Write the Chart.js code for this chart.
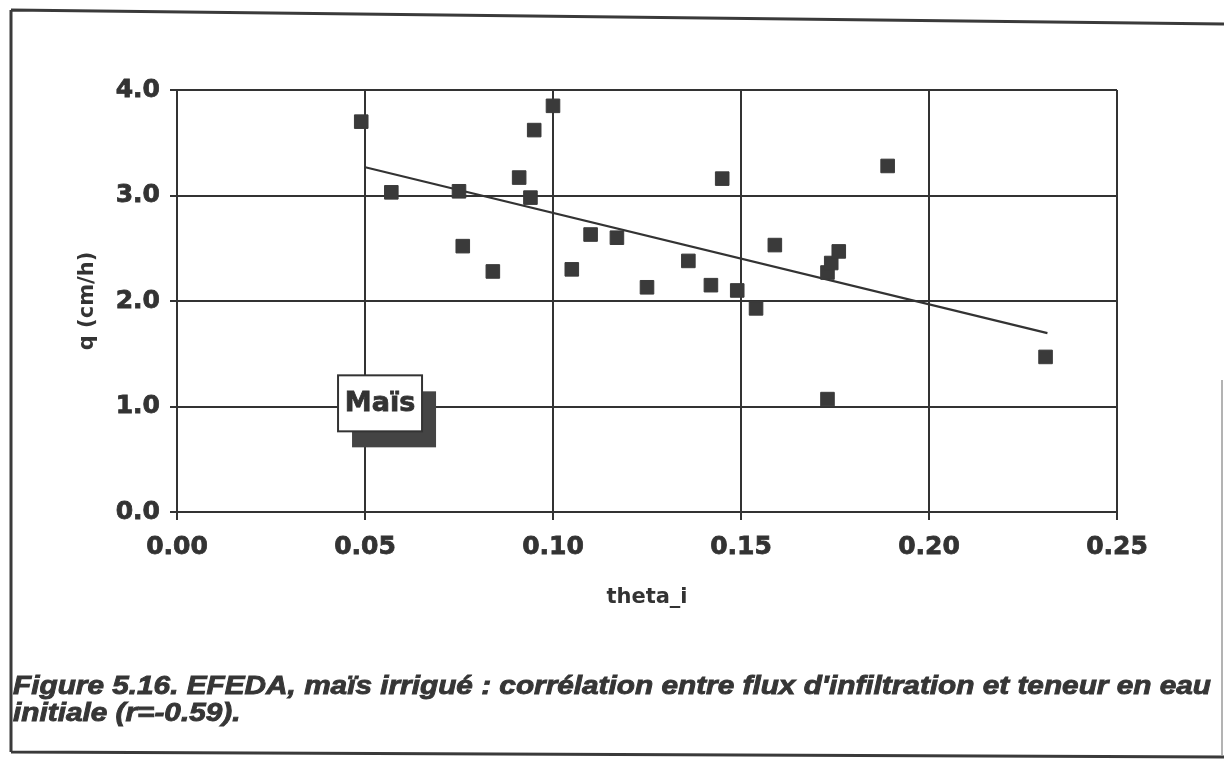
<!DOCTYPE html>
<html>
<head>
<meta charset="utf-8">
<script src="https://cdn.jsdelivr.net/npm/chart.js@4/dist/chart.umd.min.js"></script>
<style>
  html, body { margin: 0; padding: 0; background: #ffffff; }
  #wrap { width: 1224px; height: 764px; position: relative; }
</style>
</head>
<body>
<div id="wrap"><canvas id="c" width="1224" height="764"></canvas></div>
<script>
// ---- data ----
const thetaI = [0.049, 0.057, 0.075, 0.076, 0.084, 0.091, 0.094, 0.095, 0.100, 0.105,
                0.110, 0.117, 0.125, 0.136, 0.142, 0.145, 0.149, 0.154, 0.159, 0.173,
                0.174, 0.176, 0.173, 0.189, 0.231];
const qValues = [3.70, 3.03, 3.04, 2.52, 2.28, 3.17, 2.98, 3.62, 3.85, 2.30,
                 2.63, 2.60, 2.13, 2.38, 2.15, 3.16, 2.10, 1.93, 2.53, 2.27,
                 2.36, 2.47, 1.07, 3.28, 1.47];
const trendX = [0.0498, 0.2315];
const trendY = [3.27, 1.695];
const xTicks = [0.00, 0.05, 0.10, 0.15, 0.20, 0.25];
const yTicks = [0.0, 1.0, 2.0, 3.0, 4.0];
const xTitle = 'theta_i';
const yTitle = 'q (cm/h)';
const boxLabel = 'Maïs';
const boxAt = [0.054, 1.03];
const captionLines = [
  "Figure 5.16. EFEDA, maïs irrigué : corrélation entre flux d'infiltration et teneur en eau",
  "initiale (r=-0.59)."
];

const INK = '#333333';
const points = thetaI.map((x, i) => ({ x: x, y: qValues[i] }));
const trend = trendX.map((x, i) => ({ x: x, y: trendY[i] }));

const decor = {
  id: 'decor',
  beforeDraw(chart) {
    const ctx = chart.ctx;
    ctx.save();
    ctx.fillStyle = '#ffffff';
    ctx.fillRect(0, 0, chart.width, chart.height);
    ctx.restore();
  },
  afterDraw(chart) {
    const ctx = chart.ctx;
    const xs = chart.scales.x, ys = chart.scales.y;
    ctx.save();
    // outer frame of the scanned figure
    ctx.strokeStyle = '#3a3a3a';
    ctx.lineWidth = 3;
    ctx.beginPath();
    ctx.moveTo(11, 10); ctx.lineTo(1224, 24);
    ctx.moveTo(11, 10); ctx.lineTo(11, 752);
    ctx.moveTo(11, 752); ctx.lineTo(1224, 757);
    ctx.stroke();
    ctx.strokeStyle = '#9a9a9a';
    ctx.lineWidth = 1.5;
    ctx.beginPath();
    ctx.moveTo(1222, 380); ctx.lineTo(1222, 756);
    ctx.stroke();

    // "Maïs" label box with shadow
    const cx = xs.getPixelForValue(boxAt[0]);
    const cy = ys.getPixelForValue(boxAt[1]);
    const bw = 84, bh = 56;
    ctx.fillStyle = '#444444';
    ctx.fillRect(cx - bw / 2 + 14, cy - bh / 2 + 16, bw, bh);
    ctx.fillStyle = '#ffffff';
    ctx.fillRect(cx - bw / 2, cy - bh / 2, bw, bh);
    ctx.strokeStyle = INK;
    ctx.lineWidth = 2;
    ctx.strokeRect(cx - bw / 2, cy - bh / 2, bw, bh);
    ctx.fillStyle = INK;
    ctx.font = 'bold 27px "DejaVu Sans"';
    ctx.textAlign = 'center';
    ctx.textBaseline = 'middle';
    ctx.lineWidth = 0.8;
    ctx.fillText(boxLabel, cx, cy + 1);
    ctx.strokeText(boxLabel, cx, cy + 1);

    // caption
    ctx.font = 'italic bold 26px "Liberation Sans"';
    ctx.textAlign = 'left';
    ctx.textBaseline = 'alphabetic';
    const w1 = ctx.measureText(captionLines[0]).width;
    const sx = 1198 / w1;
    ctx.fillStyle = '#363636';
    ctx.strokeStyle = '#363636';
    ctx.lineWidth = 0.9;
    ctx.translate(13, 0);
    ctx.scale(sx, 1);
    ctx.fillText(captionLines[0], 0, 694);
    ctx.strokeText(captionLines[0], 0, 694);
    ctx.fillText(captionLines[1], 0, 721);
    ctx.strokeText(captionLines[1], 0, 721);
    ctx.restore();
  }
};

new Chart(document.getElementById('c'), {
  type: 'scatter',
  data: {
    datasets: [
      {
        label: 'q',
        data: points,
        pointStyle: 'rect',
        pointRadius: 9.6,
        pointHoverRadius: 9.6,
        backgroundColor: '#3a3a3a',
        borderColor: '#3a3a3a',
        borderWidth: 1,
        order: 1
      },
      {
        label: 'trend',
        type: 'line',
        data: trend,
        borderColor: INK,
        borderWidth: 2.2,
        pointRadius: 0,
        fill: false,
        order: 2
      }
    ]
  },
  options: {
    responsive: false,
    animation: false,
    events: [],
    layout: { padding: { left: 0, right: 107, top: 90, bottom: 130 } },
    plugins: {
      legend: { display: false },
      tooltip: { enabled: false }
    },
    scales: {
      x: {
        type: 'linear',
        min: 0, max: 0.25,
        afterBuildTicks: (s) => { s.ticks = xTicks.map(v => ({ value: v })); },
        afterFit: (s) => { s.height = 122; },
        ticks: {
          color: INK,
          padding: 12,
          textStrokeColor: INK,
          textStrokeWidth: 0.8,
          font: { family: '"DejaVu Sans"', weight: 'bold', size: 25 },
          callback: (v) => Number(v).toFixed(2),
          maxRotation: 0
        },
        grid: { color: INK, lineWidth: 2, tickLength: 8, tickColor: INK },
        border: { color: INK, width: 2 },
        title: {
          display: true, text: xTitle, color: INK,
          font: { family: '"DejaVu Sans"', weight: 'bold', size: 21 },
          padding: { top: 0, bottom: 24 }
        }
      },
      y: {
        type: 'linear',
        min: 0, max: 4,
        afterBuildTicks: (s) => { s.ticks = yTicks.map(v => ({ value: v })); },
        afterFit: (s) => { s.width = 177; },
        ticks: {
          color: INK,
          padding: 10,
          textStrokeColor: INK,
          textStrokeWidth: 0.8,
          font: { family: '"DejaVu Sans"', weight: 'bold', size: 25 },
          callback: (v) => Number(v).toFixed(1)
        },
        grid: { color: INK, lineWidth: 2, tickLength: 7, tickColor: INK },
        border: { color: INK, width: 2 },
        title: {
          display: true, text: yTitle, color: INK,
          font: { family: '"DejaVu Sans"', weight: 'bold', size: 21 },
          padding: { top: 75, bottom: 0 }
        }
      }
    }
  },
  plugins: [decor]
});
</script>
</body>
</html>
